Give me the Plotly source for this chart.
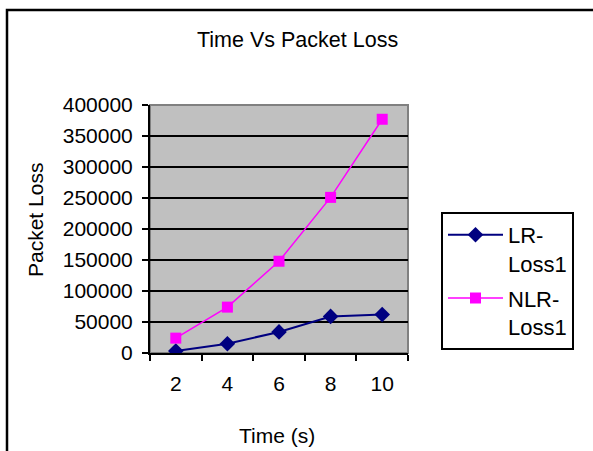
import plotly.graph_objects as go

time_labels = ["2", "4", "6", "8", "10"]
lr_loss = [3200, 15000, 34000, 59000, 62000]
nlr_loss = [24000, 74000, 148000, 251000, 377000]
y_ticks = [0, 50000, 100000, 150000, 200000, 250000, 300000, 350000, 400000]

FONT = "Liberation Sans, Arial, sans-serif"

fig = go.Figure()
fig.add_trace(go.Scatter(
    x=time_labels, y=lr_loss, name="LR-<br>Loss1", mode="lines+markers",
    legendgroup="a",
    line=dict(color="#000080", width=2),
    marker=dict(symbol="diamond", size=12, color="#000080"),
))
fig.add_trace(go.Scatter(
    x=time_labels, y=nlr_loss, name="NLR-<br>Loss1", mode="lines+markers",
    legendgroup="b",
    line=dict(color="#FF00FF", width=1.5),
    marker=dict(symbol="square", size=11, color="#FF00FF"),
))

L, R, T, B = 150, 185, 105, 98
W, H = 593, 451
pw, ph = W - L - R, H - T - B

def px(x):
    return (x - L) / pw

def py(y):
    return (H - B - y) / ph

fig.update_layout(
    width=W, height=H,
    margin=dict(l=L, r=R, t=T, b=B, pad=0),
    paper_bgcolor="white",
    plot_bgcolor="#C0C0C0",
    font=dict(family=FONT, size=21, color="black"),
    showlegend=True,
    legend=dict(
        x=px(441), y=py(212), xanchor="left", yanchor="top",
        bordercolor="black", borderwidth=2, bgcolor="white",
        font=dict(family=FONT, size=22, color="black"),
        valign="top", tracegroupgap=3, itemwidth=55,
    ),
    xaxis=dict(
        type="category", range=[-0.5, 4.5], showgrid=False,
        showline=True, linecolor="black", linewidth=2,
        ticks="outside", tickson="boundaries", ticklen=6, tickwidth=2, tickcolor="black",
        ticklabelstandoff=11, tickfont=dict(size=21),
        zeroline=False, fixedrange=True,
    ),
    yaxis=dict(
        range=[0, 400000], tickvals=y_ticks, ticktext=[str(v) for v in y_ticks],
        showgrid=True, gridcolor="black", gridwidth=2,
        showline=True, linecolor="black", linewidth=2,
        ticks="outside", ticklen=6, tickwidth=2, tickcolor="black",
        ticklabelstandoff=5, tickfont=dict(size=21),
        zeroline=False, fixedrange=True,
    ),
    annotations=[
        dict(text="Time Vs Packet Loss", x=px(297), y=py(40), xref="paper", yref="paper",
             showarrow=False, xanchor="center", yanchor="middle", font=dict(size=21.5)),
        dict(text="Time (s)", x=px(277), y=py(435), xref="paper", yref="paper",
             showarrow=False, xanchor="center", yanchor="middle", font=dict(size=21)),
        dict(text="Packet Loss", x=px(35), y=py(220), xref="paper", yref="paper",
             showarrow=False, xanchor="center", yanchor="middle", textangle=-90,
             font=dict(size=21)),
    ],
    shapes=[
        dict(type="rect", xref="paper", yref="paper", x0=0, x1=1, y0=0, y1=1,
             line=dict(color="#808080", width=2), layer="below"),
        dict(type="rect", xref="paper", yref="paper",
             x0=px(7), x1=px(620), y0=py(480), y1=py(10),
             line=dict(color="black", width=2.5), layer="above"),
    ],
)

fig.write_html("out.html")
